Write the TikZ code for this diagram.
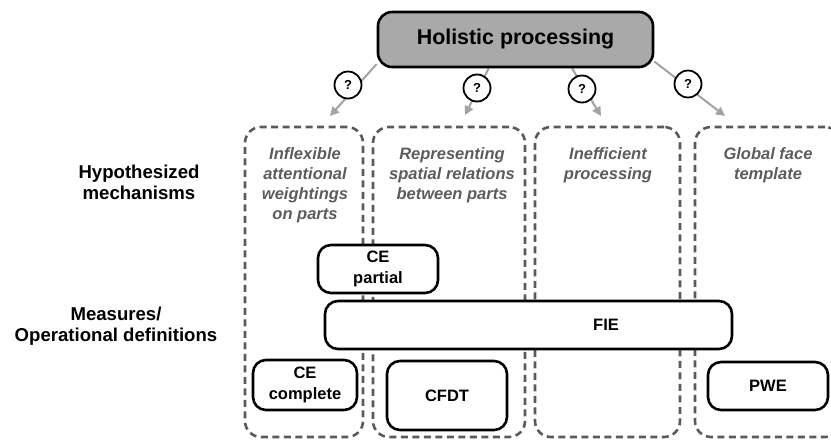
\documentclass[tikz,border=0pt]{standalone}
\usepackage{fontspec}
\setmainfont{Liberation Sans}
\usetikzlibrary{arrows.meta,backgrounds}
\definecolor{hpfill}{HTML}{A9A9A9}
\definecolor{dashc}{HTML}{5A5A5A}
\definecolor{mtextc}{HTML}{5C5C5C}
\definecolor{arrc}{HTML}{A3A3A3}
\begin{document}
\begin{tikzpicture}[x=1pt,y=-1pt,
  hpbox/.style={draw=black,line width=2.6pt,fill=hpfill,rounded corners=14pt,minimum width=275pt,minimum height=55pt,inner sep=0pt,font=\fontsize{21.4}{25}\selectfont\bfseries},
  qcirc/.style={circle,draw=black,line width=1.8pt,fill=white,minimum size=27pt,inner sep=0pt,font=\fontsize{13}{15}\selectfont\bfseries},
  mech/.style={draw=dashc,line width=2.6pt,dash pattern=on 7pt off 4.5pt,rounded corners=16pt,inner sep=0pt},
  mtext/.style={text=mtextc,font=\fontsize{16.5}{20}\selectfont\bfseries\itshape,align=center,inner sep=0pt,anchor=north},
  meas/.style={draw=black,line width=2.6pt,fill=white,rounded corners=13pt,inner sep=0pt,align=center,font=\fontsize{16.5}{20.5}\selectfont\bfseries},
  mlabel/.style={inner sep=0pt,font=\fontsize{16.5}{20.5}\selectfont\bfseries},
  side/.style={align=center,inner sep=0pt,font=\fontsize{18.6}{21.5}\selectfont\bfseries},
  conn/.style={draw=arrc,line width=2pt,-{Triangle[length=9pt,width=9pt]}}
]
\useasboundingbox (0,0) rectangle (831,440);

% hypothesized mechanisms (dashed columns)
\node[mech,minimum width=118pt,minimum height=310pt] (m1) at (304,282) {};
\node[mech,minimum width=152pt,minimum height=310pt] (m2) at (449,282) {};
\node[mech,minimum width=145pt,minimum height=310pt] (m3) at (607.5,282) {};
\node[mech,minimum width=146pt,minimum height=310pt] (m4) at (768,282) {};

\node[mtext] (t1) at (305,147) {Inflexible\\attentional\\weightings\\on parts};
\node[mtext] (t2) at (452,147) {Representing\\spatial relations\\between parts};
\node[mtext] (t3) at (608,147) {Inefficient\\processing};
\node[mtext] (t4) at (768,147) {Global face\\template};

% top node
\node[hpbox] (hp) at (515.5,39.5) {Holistic processing};

% end points of the arrows
\coordinate (e1) at (330,116);
\coordinate (e2) at (465,115);
\coordinate (e3) at (601,116);
\coordinate (e4) at (725,116);

\begin{scope}[on background layer]
  \draw[conn] (hp.190) -- (e1);
  \draw[conn] (hp.227) -- (e2);
  \draw[conn] (hp.333) -- (e3);
  \draw[conn] (hp.351.5) -- (e4);
\end{scope}

\node[qcirc] (q1) at (348,85) {?};
\node[qcirc] (q2) at (477,88) {?};
\node[qcirc] (q3) at (582,89) {?};
\node[qcirc] (q4) at (688,84) {?};

% measures
\node[meas,minimum width=120pt,minimum height=48pt] (cep) at (378,269) {CE\\partial};
\node[meas,minimum width=407pt,minimum height=48pt] (fie) at (528.5,325) {};
\node[mlabel] (fiet) at (606,325) {FIE};
\node[meas,minimum width=104pt,minimum height=50pt] (cec) at (305,385) {CE\\complete};
\node[meas,minimum width=120pt,minimum height=69pt] (cfdt) at (447,395.5) {CFDT};
\node[meas,minimum width=120pt,minimum height=48pt] (pwe) at (768,386) {PWE};

% row labels
\node[side] (hyp) at (139,182.5) {Hypothesized\\mechanisms};
\node[side] (mea) at (116,326) {Measures/\\Operational definitions};
\end{tikzpicture}
\end{document}
